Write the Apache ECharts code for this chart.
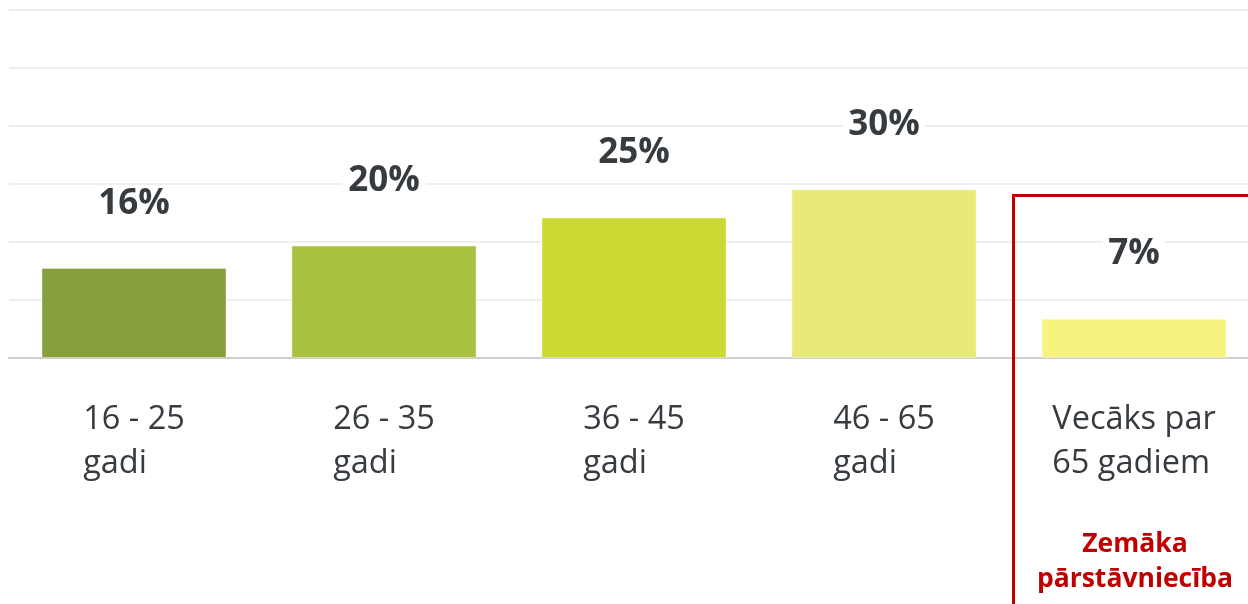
<!DOCTYPE html>
<html>
<head>
<meta charset="utf-8">
<script src="https://cdn.jsdelivr.net/npm/echarts@6/dist/echarts.min.js"></script>
<style>
html,body{margin:0;padding:0;background:#fff;overflow:hidden;width:1248px;height:604px;}
#chart{width:1260px;height:604px;}
</style>
</head>
<body>
<div id="chart"></div>
<script>
const categories = ['16 - 25\ngadi', '26 - 35\ngadi', '36 - 45\ngadi', '46 - 65\ngadi', 'Vecāks par\n65 gadiem'];
const values = [16, 20, 25, 30, 7];
const valueLabels = ['16%', '20%', '25%', '30%', '7%'];
const noteText = 'Zemāka\npārstāvniecība';
const palette = ['#87a03b', '#a8c23f', '#ccd932', '#e7ea77', '#f6f47e'];

const chart = echarts.init(document.getElementById('chart'), null, {renderer: 'canvas'});
const FONT = '"Open Sans", "Noto Sans", sans-serif';

chart.setOption({
  animation: false,
  backgroundColor: '#fff',
  grid: {left: 9, right: 1, top: 9.5, bottom: 246, containLabel: false},
  xAxis: {
    type: 'category',
    data: categories,
    axisTick: {show: false},
    axisLine: {show: true, lineStyle: {color: '#cfcfcf', width: 2}},
    axisLabel: {
      interval: 0,
      margin: 40,
      formatter: v => v.split('\n').map(s => '{a|' + s + '}').join('\n'),
      rich: {a: {align: 'left', fontSize: 32.5, lineHeight: 44, color: '#363b40', fontFamily: FONT}}
    }
  },
  yAxis: {
    type: 'value',
    min: 0,
    max: 62,
    interval: 62 / 6,
    axisLabel: {show: false},
    axisLine: {show: false},
    axisTick: {show: false},
    splitLine: {lineStyle: {color: '#eeeeee', width: 2}}
  },
  series: [{
    type: 'bar',
    barWidth: '74%',
    z: 3,
    data: values.map((v, i) => ({
      value: v,
      itemStyle: {color: palette[i], borderColor: 'rgba(255,255,255,0.35)', borderWidth: 1}
    })),
    label: {
      show: true,
      position: 'top',
      distance: 47,
      formatter: p => valueLabels[p.dataIndex],
      fontSize: 35,
      fontWeight: 'bold',
      color: '#363b40',
      fontFamily: FONT,
      backgroundColor: '#fff',
      padding: [0, 6]
    }
  }],
  graphic: [
    {
      type: 'rect',
      z: 10,
      shape: {x: 1013.5, y: 195.5, width: 400, height: 500},
      style: {fill: 'none', stroke: '#c00000', lineWidth: 3}
    },
    {
      type: 'text',
      z: 10,
      x: 1135,
      y: 527,
      style: {
        text: noteText,
        align: 'center',
        verticalAlign: 'top',
        fontSize: 26.5,
        lineHeight: 35,
        fontWeight: 'bold',
        fill: '#c00000',
        fontFamily: FONT
      }
    }
  ]
});
</script>
</body>
</html>
